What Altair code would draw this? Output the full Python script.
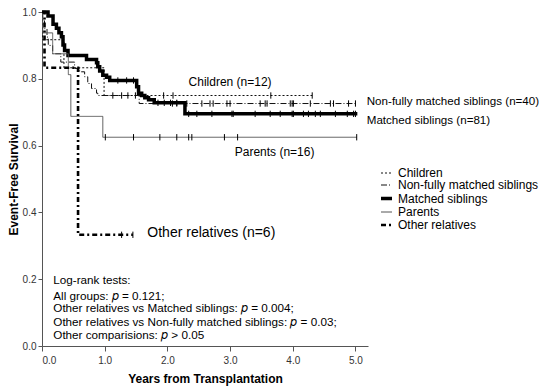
import altair as alt
import pandas as pd

# ---- data ----
series_names = ["Children", "Non-fully matched siblings", "Matched siblings", "Parents", "Other relatives"]

children_t = [0.0, 0.01, 0.35, 0.99, 4.31]
children_s = [1.0, 0.917, 0.833, 0.750, 0.750]
children_cens = [1.94, 2.09, 3.65, 4.31]

nonfully_t = [0.0, 0.01, 0.04, 0.08, 0.10, 0.17, 0.30, 0.52, 0.60, 0.68, 0.73, 0.79, 0.87, 0.89, 1.55, 5.02]
nonfully_s = [1.0, 0.975, 0.950, 0.925, 0.900, 0.875, 0.850, 0.831, 0.821, 0.806, 0.786, 0.771,
              0.757, 0.750, 0.726, 0.726]
nonfully_cens = [1.13, 1.27, 1.37, 1.49, 2.08, 2.15, 2.31, 2.55, 2.68, 2.73, 2.95, 3.00, 3.48,
                 3.56, 3.59, 3.96, 3.99, 4.01, 4.28, 4.60, 4.65, 4.89, 5.00]

matched_t = [0.0, 0.096, 0.176, 0.23, 0.27, 0.31, 0.335, 0.36, 0.415, 0.71, 0.87, 0.89, 0.92,
             0.97, 1.03, 1.08, 1.51, 1.54, 1.59, 1.64, 1.70, 1.79, 2.28, 5.03]
matched_s = [1.0, 0.988, 0.963, 0.951, 0.938, 0.926, 0.901, 0.885, 0.870, 0.858, 0.848, 0.836,
             0.823, 0.811, 0.805, 0.795, 0.776, 0.757, 0.750, 0.743, 0.737, 0.728, 0.695, 0.695]
matched_cens = [1.21, 1.35, 1.46, 1.85, 1.95, 2.05, 2.15, 2.34, 2.47, 2.71, 3.03, 3.05, 3.40, 3.64,
                3.80, 3.99, 4.01, 4.17, 4.25, 4.36, 4.44, 4.68, 4.87, 4.97, 5.00]

parents_t = [0.0, 0.01, 0.17, 0.42, 0.46, 0.97, 5.02]
parents_s = [1.0, 0.9375, 0.875, 0.8125, 0.6875, 0.625, 0.625]
parents_cens = [1.01, 1.46, 1.88, 2.15, 2.34, 2.39, 2.91, 3.12, 5.02]

other_t = [0.0, 0.04, 0.575, 1.45]
other_s = [1.0, 0.833, 0.333, 0.333]
other_cens = [1.27, 1.45]

group_labels = ["Children (n=12)", "Non-fully matched siblings (n=40)", "Matched siblings (n=81)",
                "Parents (n=16)", "Other relatives (n=6)"]
logrank_lines = [
    "Log-rank tests:",
    "All groups: \U0001D45D = 0.121;",
    "Other relatives vs Matched siblings: \U0001D45D = 0.004;",
    "Other relatives vs Non-fully matched siblings: \U0001D45D = 0.03;",
    "Other comparisions: \U0001D45D > 0.05",
]
x_ticks = [0, 1, 2, 3, 4, 5]
y_ticks = [0.0, 0.2, 0.4, 0.6, 0.8, 1.0]

# ---- tables ----
curves = [
    (children_t, children_s, children_cens),
    (nonfully_t, nonfully_s, nonfully_cens),
    (matched_t, matched_s, matched_cens),
    (parents_t, parents_s, parents_cens),
    (other_t, other_s, other_cens),
]

line_rows, cens_rows = [], []
for name, (ts, ss, cs) in zip(series_names, curves):
    for t, s in zip(ts, ss):
        line_rows.append({"series": name, "t": t, "s": s})
    for c in cs:
        lvl = ss[0]
        for t, s in zip(ts, ss):
            if t <= c:
                lvl = s
        cens_rows.append({"series": name, "t": c, "s": lvl})

line_df = pd.DataFrame(line_rows)
cens_df = pd.DataFrame(cens_rows)

# annotation positions in data coordinates
ann_center = pd.DataFrame({
    "label": [group_labels[0], group_labels[3]],
    "x": [3.0, 3.71],
    "y": [0.791, 0.582],
})
ann_left = pd.DataFrame({
    "label": [group_labels[1], group_labels[2]],
    "x": [5.18, 5.18],
    "y": [0.730, 0.675],
})
ann_big = pd.DataFrame({"label": [group_labels[4]], "x": [1.68], "y": [0.338]})
lr_df = pd.DataFrame({
    "label": logrank_lines,
    "x": [0.18] * 5,
    "y": [0.198, 0.151, 0.113, 0.073, 0.033],
})

FONT = "Liberation Sans"

xscale = alt.Scale(domain=[0, 5.2], nice=False)
yscale = alt.Scale(domain=[0, 1.0], nice=False)

dash_scale = alt.Scale(domain=series_names, range=[[2, 2], [6, 2, 1, 2], [1, 0], [1, 0], [5, 3, 2, 3]])
width_scale = alt.Scale(type="ordinal", domain=series_names, range=[1, 1, 3.5, 1, 2.6])
color_scale = alt.Scale(domain=series_names, range=["#111111", "#111111", "#000000", "#555555", "#000000"])

legend = alt.Legend(
    title=None, orient="none", legendX=337, legendY=155, symbolType="stroke",
    symbolSize=121, labelFontSize=12, labelFont=FONT, labelColor="#000000",
    rowPadding=0, labelLimit=300, labelOffset=4,
)

lines = alt.Chart(line_df).mark_line(interpolate="step-after").encode(
    x=alt.X("t:Q", scale=xscale, axis=alt.Axis(
        title="Years from Transplantation", values=x_ticks, format=".1f", grid=False,
        labelFontSize=10, titleFontSize=12, titleFontWeight="bold", titlePadding=8,
        labelPadding=4, tickSize=5, domainColor="#555555", tickColor="#555555",
        labelColor="#333333", titleColor="#000000", labelFont=FONT, titleFont=FONT)),
    y=alt.Y("s:Q", scale=yscale, axis=alt.Axis(
        title="Event-Free Survival", values=y_ticks, format=".1f", grid=False,
        labelFontSize=10, titleFontSize=12, titleFontWeight="bold", titlePadding=2,
        labelPadding=2, tickSize=4, domainColor="#555555", tickColor="#555555",
        labelColor="#333333", titleColor="#000000", labelFont=FONT, titleFont=FONT)),
    strokeDash=alt.StrokeDash("series:N", scale=dash_scale, legend=legend),
    strokeWidth=alt.StrokeWidth("series:N", scale=width_scale, legend=legend),
    color=alt.Color("series:N", scale=color_scale, legend=legend),
    detail="series:N",
)

cens = alt.Chart(cens_df).mark_point(shape="stroke", angle=90, size=40, strokeWidth=1, opacity=1).encode(
    x=alt.X("t:Q", scale=xscale),
    y=alt.Y("s:Q", scale=yscale),
    color=alt.value("#000000"),
)

def text_layer(df, align, size):
    return alt.Chart(df).mark_text(font=FONT, align=align, baseline="middle", fontSize=size,
                                   color="#000000").encode(
        x=alt.X("x:Q", scale=xscale),
        y=alt.Y("y:Q", scale=yscale),
        text="label:N",
    )

layers = [lines, cens,
          text_layer(ann_center, "center", 12),
          text_layer(ann_left, "left", 11.6),
          text_layer(ann_big, "left", 14),
          text_layer(lr_df, "left", 11.7)]

chart = alt.layer(*layers).properties(
    width=326, height=334,
    autosize=alt.AutoSizeParams(type="none"),
    padding={"left": 34, "top": 4, "right": 174, "bottom": 40},
    background="white",
).configure_view(stroke=None)

chart.save("out.html", embed_options={"renderer": "svg", "actions": False})
